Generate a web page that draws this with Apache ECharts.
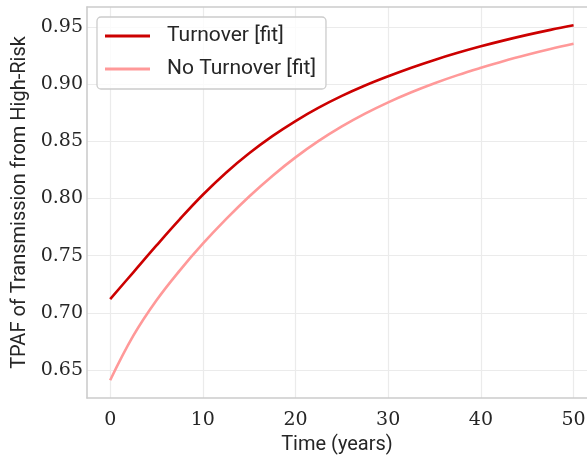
<!DOCTYPE html>
<html>
<head>
<meta charset="utf-8">
<script src="https://cdn.jsdelivr.net/npm/echarts@6/dist/echarts.min.js"></script>
<style>html,body{margin:0;padding:0;background:#fff;}#c{width:587px;height:457px;}</style>
</head>
<body>
<div id="c"></div>
<script>
const years = [0, 2.5, 5, 7.5, 10, 12.5, 15, 17.5, 20, 22.5, 25, 27.5, 30, 32.5, 35, 37.5, 40, 42.5, 45, 47.5, 50];
const turnover = [0.712, 0.7355, 0.759, 0.7818, 0.8033, 0.8226, 0.8396, 0.8546, 0.8678, 0.8795, 0.8898, 0.8989, 0.907, 0.9145, 0.9213, 0.9275, 0.9332, 0.9384, 0.9432, 0.9476, 0.9516];
const noTurnover = [0.641, 0.680, 0.711, 0.737, 0.7605, 0.782, 0.8018, 0.8198, 0.836, 0.8504, 0.8631, 0.8743, 0.8842, 0.893, 0.9009, 0.908, 0.9144, 0.9204, 0.9258, 0.9308, 0.9354];
const xTicks = [0, 10, 20, 30, 40, 50];
const yTicks = [0.65, 0.70, 0.75, 0.80, 0.85, 0.90, 0.95];
const seriesNames = ['Turnover [fit]', 'No Turnover [fit]'];

const chart = echarts.init(document.getElementById('c'), null, {renderer: 'canvas'});
const sans = 'Roboto';
const serif = 'DejaVu Serif';
const txt = '#262626';
const border = {show: true, onZero: false, lineStyle: {color: '#cccccc', width: 1.6}};
chart.setOption({
  animation: false,
  backgroundColor: '#fff',
  grid: {left: 87, top: 7, right: 0, bottom: 59, show: false, outerBoundsMode: 'none', containLabel: false},
  legend: {
    show: true, orient: 'vertical', left: 97, top: 17,
    data: seriesNames,
    icon: 'rect', itemWidth: 45, itemHeight: 3, itemGap: 9,
    backgroundColor: 'rgba(255,255,255,0.8)', borderColor: '#cccccc', borderWidth: 1.3, borderRadius: 4,
    padding: [7, 10, 8, 8],
    textStyle: {fontFamily: sans, fontSize: 21, color: txt, lineHeight: 24, padding: [0, 0, 0, 12]}
  },
  xAxis: [{
    type: 'value', min: -2.5, max: 51.45,
    name: 'Time (years)', nameLocation: 'middle', nameGap: 37,
    nameTextStyle: {fontFamily: sans, fontSize: 20, color: txt},
    axisLine: border, axisTick: {show: false, customValues: xTicks},
    axisLabel: {customValues: xTicks, fontFamily: serif, fontSize: 19, color: txt, margin: 13},
    splitLine: {show: true, lineStyle: {color: '#ebebeb', width: 1.2}}
  }, {
    type: 'value', position: 'top', min: -2.5, max: 51.45,
    axisLine: border, axisTick: {show: false}, axisLabel: {show: false}, splitLine: {show: false}
  }],
  yAxis: {
    type: 'value', min: 0.6255, max: 0.9676,
    name: 'TPAF of Transmission from High-Risk', nameLocation: 'middle', nameGap: 46,
    nameTextStyle: {fontFamily: sans, fontSize: 20, color: txt},
    axisLine: border, axisTick: {show: false, customValues: yTicks},
    axisLabel: {customValues: yTicks, fontFamily: serif, fontSize: 19, color: txt, margin: 4, formatter: v => v.toFixed(2)},
    splitLine: {show: true, lineStyle: {color: '#ebebeb', width: 1.2}}
  },
  series: [
    {name: seriesNames[0], type: 'line', xAxisIndex: 0, data: years.map((x, i) => [x, turnover[i]]), smooth: 0.4, symbol: 'none', lineStyle: {color: '#cc0000', width: 2.6}, itemStyle: {color: '#cc0000'}, z: 3},
    {name: seriesNames[1], type: 'line', xAxisIndex: 0, data: years.map((x, i) => [x, noTurnover[i]]), smooth: 0.4, symbol: 'none', lineStyle: {color: '#ff9999', width: 2.6}, itemStyle: {color: '#ff9999'}, z: 2}
  ]
});
</script>
</body>
</html>
